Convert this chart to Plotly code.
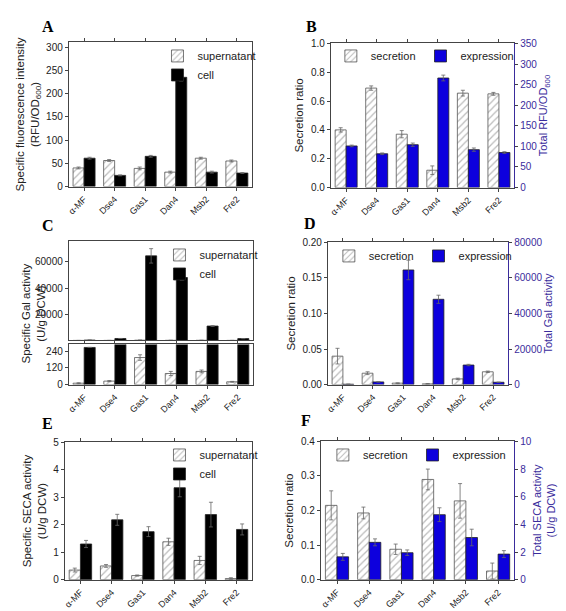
import plotly.graph_objects as go

cats = ["α-MF", "Dse4", "Gas1", "Dan4", "Msb2", "Fre2"]

# Panel A
a_sup = [40, 56, 39, 31, 61, 55]; a_sup_err = [2, 2, 3, 2, 2, 2]
a_cell = [61, 24, 65, 235, 31, 29]; a_cell_err = [2, 1, 2, 8, 2, 1]
# Panel B
b_sec = [0.40, 0.69, 0.37, 0.12, 0.655, 0.65]; b_sec_err = [0.015, 0.015, 0.025, 0.03, 0.02, 0.01]
b_exp = [101, 82, 104, 266, 92, 85]; b_exp_err = [2, 2, 4, 7, 4, 2]
# Panel C
c_sup = [10, 25, 195, 80, 95, 20]; c_sup_err = [3, 4, 20, 15, 10, 3]
c_cell = [268, 1500, 64500, 48000, 11000, 1400]; c_cell_err = [0, 0, 5500, 2000, 300, 0]
# Panel D
d_sec = [0.040, 0.016, 0.002, 0.001, 0.008, 0.018]; d_sec_err = [0.011, 0.002, 0.0004, 0.0004, 0.001, 0.001]
d_exp = [200, 1500, 64500, 48000, 11000, 1300]; d_exp_err = [0, 0, 5500, 2300, 400, 0]
# Panel E
e_sup = [0.35, 0.50, 0.15, 1.38, 0.70, 0.04]; e_sup_err = [0.07, 0.05, 0.02, 0.13, 0.15, 0.03]
e_cell = [1.30, 2.18, 1.75, 3.35, 2.37, 1.83]; e_cell_err = [0.13, 0.20, 0.18, 0.33, 0.45, 0.20]
# Panel F
f_sec = [0.215, 0.193, 0.088, 0.29, 0.228, 0.025]; f_sec_err = [0.042, 0.017, 0.015, 0.03, 0.05, 0.023]
f_exp = [1.65, 2.70, 1.95, 4.70, 3.05, 1.85]; f_exp_err = [0.25, 0.25, 0.2, 0.5, 0.6, 0.25]

W, H = 566, 611
BLUE = "#0d00dd"
AX2 = "#3a2c9c"
FONT = "Liberation Sans"

def px(x0, x1): return [x0 / W, x1 / W]
def py(y0, y1): return [1 - y1 / H, 1 - y0 / H]

fig = go.Figure()

def hatch_bar(x, y, err, name, xa, ya, leg, show, og):
    return go.Bar(x=x, y=y, name=name, xaxis=xa, yaxis=ya, legend=leg, showlegend=show,
                  offsetgroup=og, alignmentgroup=xa,
                  marker=dict(color="white", line=dict(color="#555", width=0.8),
                              pattern=dict(shape="/", fgcolor="#777", bgcolor="white", size=5, solidity=0.25)),
                  error_y=dict(type="data", array=err, color="#666", thickness=0.8, width=2))

def solid_bar(x, y, err, name, xa, ya, leg, show, og, color):
    return go.Bar(x=x, y=y, name=name, xaxis=xa, yaxis=ya, legend=leg, showlegend=show,
                  offsetgroup=og, alignmentgroup=xa,
                  marker=dict(color=color, line=dict(color="#222", width=0.8)),
                  error_y=dict(type="data", array=err, color="#666", thickness=0.8, width=2))

fig.add_trace(hatch_bar(cats, a_sup, a_sup_err, "supernatant", "x", "y", "legend", True, "a"))
fig.add_trace(solid_bar(cats, a_cell, a_cell_err, "cell", "x", "y", "legend", True, "b", "black"))
fig.add_trace(hatch_bar(cats, b_sec, b_sec_err, "secretion", "x2", "y2", "legend2", True, "a"))
fig.add_trace(solid_bar(cats, b_exp, b_exp_err, "expression", "x2", "y3", "legend2", True, "b", BLUE))
fig.add_trace(hatch_bar(cats, c_sup, c_sup_err, "supernatant", "x3", "y4", "legend3", True, "a"))
fig.add_trace(solid_bar(cats, c_cell, c_cell_err, "cell", "x3", "y4", "legend3", True, "b", "black"))
fig.add_trace(hatch_bar(cats, c_sup, [0]*6, "supernatant", "x3", "y5", "legend3", False, "a"))
fig.add_trace(solid_bar(cats, c_cell, c_cell_err, "cell", "x3", "y5", "legend3", False, "b", "black"))
fig.add_trace(hatch_bar(cats, d_sec, d_sec_err, "secretion", "x4", "y6", "legend4", True, "a"))
fig.add_trace(solid_bar(cats, d_exp, d_exp_err, "expression", "x4", "y7", "legend4", True, "b", BLUE))
fig.add_trace(hatch_bar(cats, e_sup, e_sup_err, "supernatant", "x5", "y8", "legend5", True, "a"))
fig.add_trace(solid_bar(cats, e_cell, e_cell_err, "cell", "x5", "y8", "legend5", True, "b", "black"))
fig.add_trace(hatch_bar(cats, f_sec, f_sec_err, "secretion", "x6", "y9", "legend6", True, "a"))
fig.add_trace(solid_bar(cats, f_exp, f_exp_err, "expression", "x6", "y10", "legend6", True, "b", BLUE))

tf = dict(family=FONT, size=9, color="#222")
def xax(dom, anchor):
    return dict(domain=dom, anchor=anchor, showline=True, linecolor="#444", linewidth=1, mirror="all",
                ticks="outside", ticklen=3, tickangle=-45, tickfont=tf, showgrid=False)
def yax(dom, anchor, rng, title, dtick=None, **kw):
    d = dict(domain=dom, anchor=anchor, range=rng, showline=True, linecolor="#444", linewidth=1,
             ticks="outside", ticklen=3, tickfont=dict(family=FONT, size=10, color="#222"),
             showgrid=False, zeroline=False,
             title=dict(text=title, font=dict(family=FONT, size=11.5, color="#222"), standoff=4))
    if dtick is not None: d["dtick"] = dtick
    d.update(kw)
    return d
def y2ax(anchor, over, rng, title, dtick, **kw):
    d = dict(overlaying=over, anchor=anchor, side="right", range=rng, dtick=dtick,
             showline=True, linecolor=AX2, linewidth=1, ticks="outside", ticklen=3,
             tickfont=dict(family=FONT, size=10, color=AX2), showgrid=False, zeroline=False,
             title=dict(text=title, font=dict(family=FONT, size=11, color=AX2), standoff=2))
    d.update(kw)
    return d

lay = dict(
    width=W, height=H, margin=dict(l=0, r=0, t=0, b=0), barmode="group", bargap=0.28, bargroupgap=0.0,
    plot_bgcolor="white", paper_bgcolor="white", font=dict(family=FONT),
    xaxis=xax(px(59, 243), "y"),
    yaxis=yax(py(29, 176), "x", [0, 310], "Specific fluorescence intensity<br>(RFU/OD<sub>600</sub>)", 50, mirror=True),
    xaxis2=xax(px(322, 506), "y2"),
    yaxis2=yax(py(30, 177), "x2", [0, 1.0], "Secretion ratio", 0.2, tickformat=".1f"),
    yaxis3=y2ax("x2", "y2", [0, 350], "Total RFU/OD<sub>600</sub>", 50),
    xaxis3=xax(px(59, 244), "y4"),
    yaxis4=yax(py(337, 378), "x3", [0, 290], "", None, tickvals=[0, 120, 240], mirror=True),
    yaxis5=yax(py(232, 333), "x3", [0, 75500], "", None, tickvals=[20000, 40000, 60000], tickformat="d", mirror=True),
    xaxis4=xax(px(319, 500), "y6"),
    yaxis6=yax(py(233, 378), "x4", [0, 0.2], "Secretion ratio", 0.05, tickformat=".2f"),
    yaxis7=y2ax("x4", "y6", [0, 80000], "Total Gal activity<br>(U/g DCW)", 20000, tickformat="d"),
    xaxis5=xax(px(55, 243), "y8"),
    yaxis8=yax(py(437, 577), "x5", [0, 5], "Specific SECA activity<br>(U/g DCW)", 1, mirror=True),
    xaxis6=xax(px(312, 506), "y9"),
    yaxis9=yax(py(436, 577), "x6", [0, 0.4], "Secretion ratio", 0.1, tickformat=".1f"),
    yaxis10=y2ax("x6", "y9", [0, 10], "Total SECA activity<br>(U/g DCW)", 2),
)
legf = dict(family=FONT, size=11, color="#222")
def leg(x, y, orient="v"):
    return dict(x=x / W, y=1 - y / H, xanchor="left", yanchor="top", orientation=orient,
                bgcolor="rgba(0,0,0,0)", font=legf, tracegroupgap=0, itemwidth=30)
lay["legend"] = leg(148, 28)
lay["legend2"] = leg(322, 28, "h")
lay["legend3"] = leg(150, 231)
lay["legend4"] = leg(320, 232, "h")
lay["legend5"] = leg(150, 435)
lay["legend6"] = leg(314, 435, "h")
fig.update_layout(**lay)

for t, x, y in [("A", 30, 2), ("B", 295, 2), ("C", 30, 205), ("D", 293, 203), ("E", 30, 407), ("F", 290, 404)]:
    fig.add_annotation(text="<b>%s</b>" % t, x=x / W, y=1 - y / H, xref="paper", yref="paper",
                       xanchor="left", yanchor="top", showarrow=False,
                       font=dict(family="Liberation Serif", size=16, color="black"))
fig.add_annotation(text="Specific Gal activity<br>(U/g DCW)", x=8 / W, y=1 - 305 / H, xref="paper", yref="paper",
                   textangle=-90, showarrow=False, font=dict(family=FONT, size=11.5, color="#222"))

fig.write_html("out.html")
